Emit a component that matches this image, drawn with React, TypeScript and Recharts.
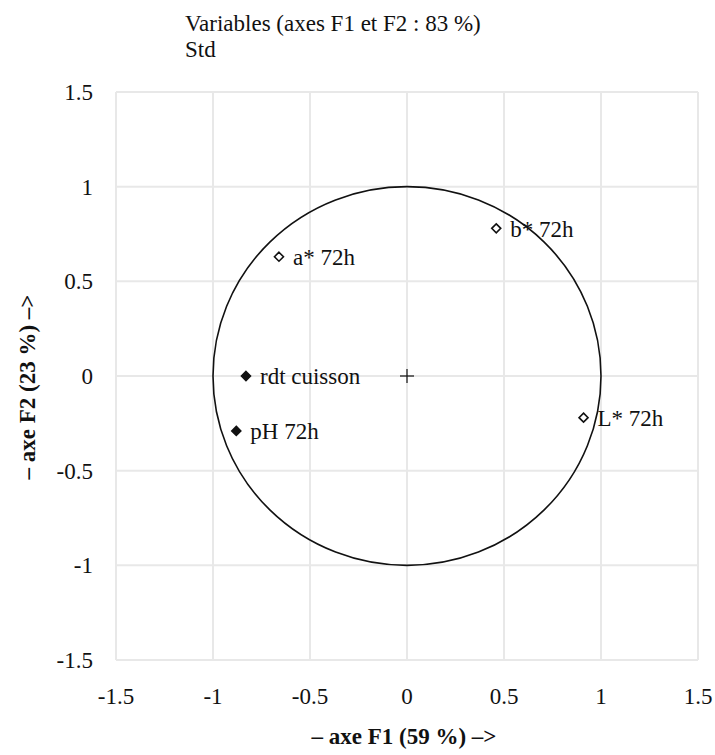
import React from "react";
import {
  ScatterChart,
  Scatter,
  XAxis,
  YAxis,
  CartesianGrid,
  ReferenceArea,
} from "recharts";

const variables = ["a* 72h", "b* 72h", "rdt cuisson", "pH 72h", "L* 72h"];
const f1 = [-0.66, 0.46, -0.83, -0.88, 0.91];
const f2 = [0.63, 0.78, 0.0, -0.29, -0.22];
const hollow = [true, true, false, false, true];
const ticks = [-1.5, -1, -0.5, 0, 0.5, 1, 1.5];
const origin = [{ x: 0, y: 0 }];

const points = variables.map((name, i) => ({
  name,
  x: f1[i],
  y: f2[i],
  hollow: hollow[i],
}));

const FONT = "'Liberation Serif', 'Times New Roman', serif";
const INK = "#111";

function VarPoint(props: any) {
  const { cx, cy, payload } = props;
  const r = 4.5;
  return (
    <g>
      <polygon
        points={`${cx},${cy - r} ${cx + r},${cy} ${cx},${cy + r} ${cx - r},${cy}`}
        fill={payload.hollow ? "#fff" : INK}
        stroke={INK}
        strokeWidth={1.6}
      />
      <text
        x={cx + 14}
        y={cy}
        dy="0.36em"
        fontSize={23}
        fontFamily={FONT}
        fill={INK}
      >
        {payload.name}
      </text>
    </g>
  );
}

function OriginCross(props: any) {
  const { cx, cy } = props;
  const a = 7;
  return (
    <g stroke={INK} strokeWidth={1.2}>
      <line x1={cx - a} y1={cy} x2={cx + a} y2={cy} />
      <line x1={cx} y1={cy - a} x2={cx} y2={cy + a} />
    </g>
  );
}

function UnitCircle(p: any) {
  return (
    <ellipse
      cx={p.x + p.width / 2}
      cy={p.y + p.height / 2}
      rx={Math.abs(p.width) / 2}
      ry={Math.abs(p.height) / 2}
      fill="none"
      stroke={INK}
      strokeWidth={1.6}
    />
  );
}

const tickStyle = { fontSize: 23, fontFamily: FONT, fill: INK };

export default function App() {
  return (
    <div
      style={{
        position: "absolute",
        left: 0,
        top: 0,
        width: 715,
        height: 755,
        background: "#fff",
        fontFamily: FONT,
        color: INK,
      }}
    >
      <div style={{ position: "absolute", left: 185, top: 11, fontSize: 23, lineHeight: "26px" }}>
        Variables (axes F1 et F2 : 83 %)
        <br />
        Std
      </div>
      <ScatterChart
        width={715}
        height={755}
        margin={{ top: 92, right: 17, bottom: 0, left: 0 }}
      >
        <CartesianGrid stroke="#e8e8e8" strokeWidth={2} />
        <XAxis
          type="number"
          dataKey="x"
          domain={[-1.5, 1.5]}
          ticks={ticks}
          height={95}
          axisLine={false}
          tickLine={false}
          tickMargin={22}
          tick={tickStyle}
          interval={0}
        />
        <YAxis
          type="number"
          dataKey="y"
          domain={[-1.5, 1.5]}
          ticks={ticks}
          width={116}
          axisLine={false}
          tickLine={false}
          tickMargin={17}
          tick={tickStyle}
          interval={0}
        />
        <ReferenceArea x1={-1} x2={1} y1={-1} y2={1} shape={UnitCircle} />
        <Scatter data={origin} shape={OriginCross} isAnimationActive={false} />
        <Scatter data={points} shape={VarPoint} isAnimationActive={false} />
      </ScatterChart>
      <div
        style={{
          position: "absolute",
          left: 404,
          top: 724,
          transform: "translateX(-50%)",
          whiteSpace: "nowrap",
          fontSize: 23,
          fontWeight: "bold",
          lineHeight: "26px",
        }}
      >
        – axe F1 (59 %) –&gt;
      </div>
      <div
        style={{
          position: "absolute",
          left: 28,
          top: 387,
          transform: "translate(-50%, -50%) rotate(-90deg)",
          whiteSpace: "nowrap",
          fontSize: 23,
          fontWeight: "bold",
          lineHeight: "26px",
        }}
      >
        – axe F2 (23 %) –&gt;
      </div>
    </div>
  );
}
